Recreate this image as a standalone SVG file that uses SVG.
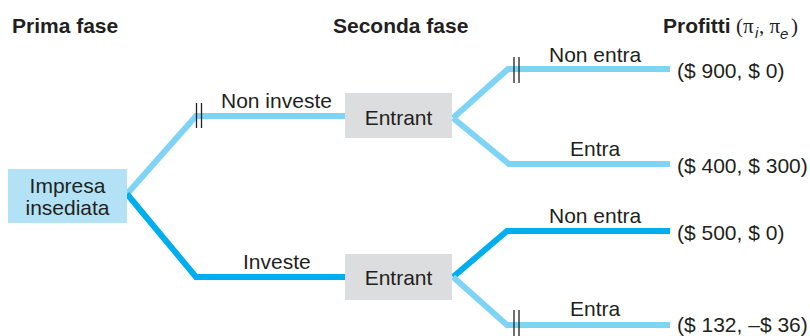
<svg xmlns="http://www.w3.org/2000/svg" width="810" height="336" viewBox="0 0 810 336">
  <style>
    .t { font-family: "Liberation Sans", Arial, sans-serif; font-size: 21px; fill: #231f20; }
    .b { font-weight: bold; }
    .m { font-family: "Liberation Serif", "Times New Roman", serif; font-size: 21px; fill: #231f20; }
    .sub { font-family: "Liberation Sans", Arial, sans-serif; font-style: italic; font-size: 15px; fill: #231f20; }
    .light { fill: none; stroke: #7fd3f4; stroke-width: 6; stroke-linejoin: miter; }
    .dark { fill: none; stroke: #00aeef; stroke-width: 6; stroke-linejoin: miter; }
    .cut { stroke: #231f20; stroke-width: 1.3; }
    .firm { fill: #b3e2f6; }
    .entrant { fill: #dcdddf; }
  </style>

  <!-- stage headings -->
  <text class="t b" x="12" y="33">Prima fase</text>
  <text class="t b" x="333" y="33">Seconda fase</text>
  <g id="payoff-heading">
    <text class="t b" x="663" y="33">Profitti</text>
    <text class="m" x="736" y="33">(π</text>
    <text class="sub" x="755" y="38">i</text>
    <text class="m" x="759" y="33">, π</text>
    <text class="sub" x="780" y="39">e</text>
    <text class="m" x="791" y="33">)</text>
  </g>

  <!-- branches -->
  <g id="connectors">
    <polyline class="light" points="127,194 196,116 400,116"/>
    <polyline class="dark" points="127,194 196,277 400,277"/>
    <polyline class="light" points="453,118 508,69 670,69"/>
    <polyline class="light" points="453,118 509,164 670,164"/>
    <polyline class="dark" points="453,277 507,231 670,231"/>
    <polyline class="light" points="453,277 507,325 670,325"/>
    <!-- pruned-branch marks -->
    <line class="cut" x1="196.5" y1="103" x2="196.5" y2="128"/>
    <line class="cut" x1="201.5" y1="103" x2="201.5" y2="128"/>
    <line class="cut" x1="514" y1="57" x2="514" y2="83"/>
    <line class="cut" x1="519" y1="57" x2="519" y2="83"/>
    <line class="cut" x1="514" y1="310" x2="514" y2="336"/>
    <line class="cut" x1="519" y1="310" x2="519" y2="336"/>
    <!-- branch labels -->
    <text class="t" x="221" y="108">Non investe</text>
    <text class="t" x="243" y="269">Investe</text>
    <text class="t" x="549" y="62">Non entra</text>
    <text class="t" x="570" y="156">Entra</text>
    <text class="t" x="549" y="223">Non entra</text>
    <text class="t" x="570" y="316">Entra</text>
  </g>

  <g id="incumbent">
    <rect class="firm" x="8" y="169" width="119" height="54"/>
    <text class="t" x="67.5" y="193" text-anchor="middle">Impresa</text>
    <text class="t" x="67.5" y="215" text-anchor="middle">insediata</text>
  </g>

  <g id="entrant-top">
    <rect class="entrant" x="345" y="93" width="107" height="45"/>
    <text class="t" x="398.5" y="125" text-anchor="middle">Entrant</text>
  </g>

  <g id="entrant-bottom">
    <rect class="entrant" x="345" y="254" width="107" height="46"/>
    <text class="t" x="398.5" y="285" text-anchor="middle">Entrant</text>
  </g>

  <!-- payoffs -->
  <g id="payoffs">
    <text class="t" x="677" y="78">($ 900, $ 0)</text>
    <text class="t" x="677" y="173">($ 400, $ 300)</text>
    <text class="t" x="677" y="240">($ 500, $ 0)</text>
    <text class="t" x="677" y="332">($ 132, –$ 36)</text>
  </g>
</svg>
